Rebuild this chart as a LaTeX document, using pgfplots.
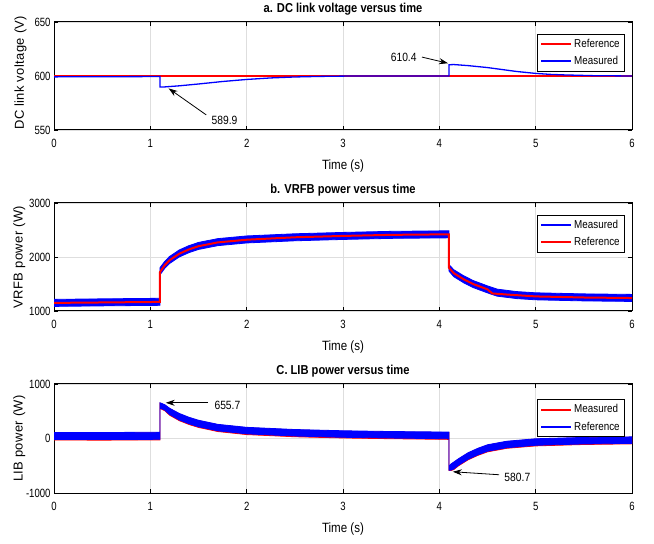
\documentclass[border=0pt]{standalone}
\usepackage{pgfplots}
\pgfplotsset{compat=1.18}
\usetikzlibrary{arrows.meta}
\usepackage{fontspec}
\setmainfont{Liberation Sans}
\newfontfamily\narrow{Liberation Sans}[FakeStretch=0.86]
\newfontfamily\tnarrow{Liberation Sans}[FakeStretch=0.8]
\newfontfamily\wide{Liberation Sans}[LetterSpace=3]
\pgfplotsset{
  mystyle/.style={
    scale only axis, width=578bp, height=108bp,
    xmin=0, xmax=6, xtick={0,1,2,3,4,5,6},
    grid=major, major grid style={black!13, line width=0.8bp},
    axis line style={black, line width=1bp},
    tick style={black, line width=0.8bp}, major tick length=4bp,
    tick align=inside,
    /pgf/number format/assume math mode=true,
    /pgf/number format/1000 sep={},
    tick label style={font=\tnarrow\fontsize{12}{14}\selectfont},
    xticklabel style={yshift=-6bp},
    yticklabel style={xshift=0bp},
    title style={font=\narrow\bfseries\fontsize{13}{15}\selectfont, at={(0.5,1)}, anchor=south, yshift=-3bp},
    xlabel style={font=\narrow\fontsize{13.5}{15}\selectfont, at={(axis description cs:0.5,0)}, anchor=center, yshift=-36bp},
    ylabel style={font=\wide\fontsize{13}{15}\selectfont, at={(axis description cs:-0.06,0.5)}, anchor=center, rotate=0},
    xlabel={Time (s)},
    legend cell align=left,
    legend style={font=\narrow\fontsize{11.5}{13}\selectfont, draw=black, line width=0.8bp, fill=white,
      at={(0.988,0.89)}, anchor=north east, row sep=3.5bp, inner sep=3bp},
    legend image code/.code={\draw[#1, line width=2bp, fill=none] (0bp,0bp) -- (30bp,0bp);},
  }
}
\begin{document}
\begin{tikzpicture}
\useasboundingbox (0,0) rectangle (654bp,544bp);
% ---------- a ----------
\begin{axis}[mystyle, at={(54bp,414bp)}, anchor=south west,
  ymin=550, ymax=650, ytick={550,600,650},
  title={a. DC link voltage versus time},
  ylabel={DC link voltage (V)},
  ylabel style={at={(axis description cs:-0.058,0.53)}}]
\addplot[red, line width=2.5bp] coordinates {(0,600) (6,600)};
\addlegendentry{Reference}
\addplot[blue, line width=1.3bp] coordinates {
(0,599.2) (0.5,599.3) (1.1,599.5) (1.1,589.9) (1.15,589.9) (1.3,590.9) (1.5,592.6) (1.75,594.9) (2,596.8) (2.25,598.2) (2.5,599.1) (2.75,599.6) (3,599.9) (3.5,600) (4.1,600)
(4.1,610.4) (4.15,610.6) (4.3,609.6) (4.5,607.8) (4.65,606) (4.8,604.2) (5,602.4) (5.15,601.5) (5.3,601) (5.6,600.3) (6,600)};
\addlegendentry{Measured}
\draw[-{Stealth[length=9bp,width=6bp]}, line width=0.8bp] (axis cs:1.58,564) -- (axis cs:1.19,588.5);
\node[font=\narrow\fontsize{12}{14}\selectfont] at (axis cs:1.77,558.5) {589.9};
\draw[-{Stealth[length=9bp,width=6bp]}, line width=0.8bp] (axis cs:3.82,617.5) -- (axis cs:4.09,611.8);
\node[font=\narrow\fontsize{12}{14}\selectfont] at (axis cs:3.63,617) {610.4};
\end{axis}
% ---------- b ----------
\begin{axis}[mystyle, at={(54bp,233bp)}, anchor=south west,
  ymin=1000, ymax=3000, ytick={1000,2000,3000},
  title={b. VRFB power versus time},
  ylabel={VRFB power (W)}]
\addplot[blue, fill=blue, line width=0.8bp] coordinates {
(0,1215) (0.5,1225) (1.1,1235) (1.1,1800) (1.15,1920) (1.2,2010) (1.3,2130) (1.4,2210) (1.5,2270) (1.7,2340) (2,2390) (2.5,2430) (3,2455) (3.5,2475) (4.1,2485)
(4.1,1860) (4.15,1765) (4.25,1655) (4.35,1565) (4.5,1465) (4.6,1405) (4.8,1360) (5,1337) (5.5,1317) (6,1307)
(6,1177) (5.5,1187) (5,1207) (4.8,1230) (4.6,1275) (4.5,1335) (4.35,1435) (4.25,1525) (4.15,1635) (4.1,1740)
(4.1,2355) (3.5,2345) (3,2325) (2.5,2300) (2,2260) (1.7,2210) (1.5,2140) (1.4,2080) (1.3,2000) (1.2,1880) (1.15,1790) (1.1,1670)
(1.1,1105) (0.5,1095) (0,1085)} --cycle;
\addlegendentry{Measured}
\addplot[red, line width=2bp] coordinates {
(0,1150) (0.5,1158) (1.1,1168) (1.1,1720) (1.15,1850) (1.2,1940) (1.3,2060) (1.4,2140) (1.5,2200) (1.7,2270) (2,2320) (2.5,2365) (3,2390) (3.5,2410) (4.1,2420)
(4.1,1800) (4.15,1700) (4.25,1590) (4.35,1500) (4.5,1400) (4.55,1325) (4.7,1305) (5,1270) (5.5,1250) (6,1240)};
\addlegendentry{Reference}
\end{axis}
% ---------- c ----------
\begin{axis}[mystyle, at={(54bp,51bp)}, anchor=south west, height=109bp,
  ymin=-1000, ymax=1000, ytick={-1000,0,1000},
  title={C. LIB power versus time},
  ylabel={LIB power (W)},
  legend style={at={(0.988,0.86)}}]
\addplot[red, fill=red, line width=0.8bp] coordinates {
(0,100) (0.5,102) (1.1,106) (1.1,650) (1.15,612) (1.2,546) (1.3,451) (1.4,381) (1.5,326) (1.7,251) (2,196) (2.5,156) (3,133) (3.5,119) (4.1,109)
(4.1,-528) (4.12,-478) (4.2,-378) (4.3,-268) (4.4,-188) (4.5,-123) (4.7,-58) (5,-13) (5.5,12) (6,22)
(6,-98) (5.5,-110) (5,-136) (4.7,-180) (4.5,-245) (4.4,-310) (4.3,-390) (4.2,-500) (4.15,-570) (4.12,-588) (4.1,-588)
(4.1,-16) (3.5,-4) (3,10) (2.5,32) (2,72) (1.7,128) (1.5,203) (1.4,258) (1.3,328) (1.2,428) (1.15,510) (1.1,552)
(1.1,-26) (0.5,-30) (0,-28)} --cycle;
\addlegendentry{Measured}
\addplot[blue, fill=blue, line width=0.8bp] coordinates {
(0,108) (0.5,110) (1.1,115) (1.1,656) (1.15,620) (1.2,555) (1.3,460) (1.4,390) (1.5,335) (1.7,260) (2,205) (2.5,165) (3,142) (3.5,128) (4.1,118)
(4.1,-520) (4.12,-470) (4.2,-370) (4.3,-260) (4.4,-180) (4.5,-115) (4.7,-50) (5,-5) (5.5,20) (6,30)
(6,-90) (5.5,-100) (5,-125) (4.7,-170) (4.5,-235) (4.4,-300) (4.3,-380) (4.2,-490) (4.15,-560) (4.12,-581) (4.1,-581)
(4.1,-5) (3.5,8) (3,22) (2.5,45) (2,85) (1.7,140) (1.5,215) (1.4,270) (1.3,340) (1.2,440) (1.15,520) (1.1,560)
(1.1,-15) (0.5,-20) (0,-18)} --cycle;
\addlegendentry{Reference}
\draw[-{Stealth[length=9bp,width=6bp]}, line width=0.8bp] (axis cs:1.6,655) -- (axis cs:1.16,655);
\node[font=\narrow\fontsize{12}{14}\selectfont] at (axis cs:1.8,615) {655.7};
\draw[-{Stealth[length=9bp,width=6bp]}, line width=0.8bp] (axis cs:4.62,-665) -- (axis cs:4.14,-610);
\node[font=\narrow\fontsize{12}{14}\selectfont] at (axis cs:4.81,-715) {580.7};
\end{axis}
\end{tikzpicture}
\end{document}
